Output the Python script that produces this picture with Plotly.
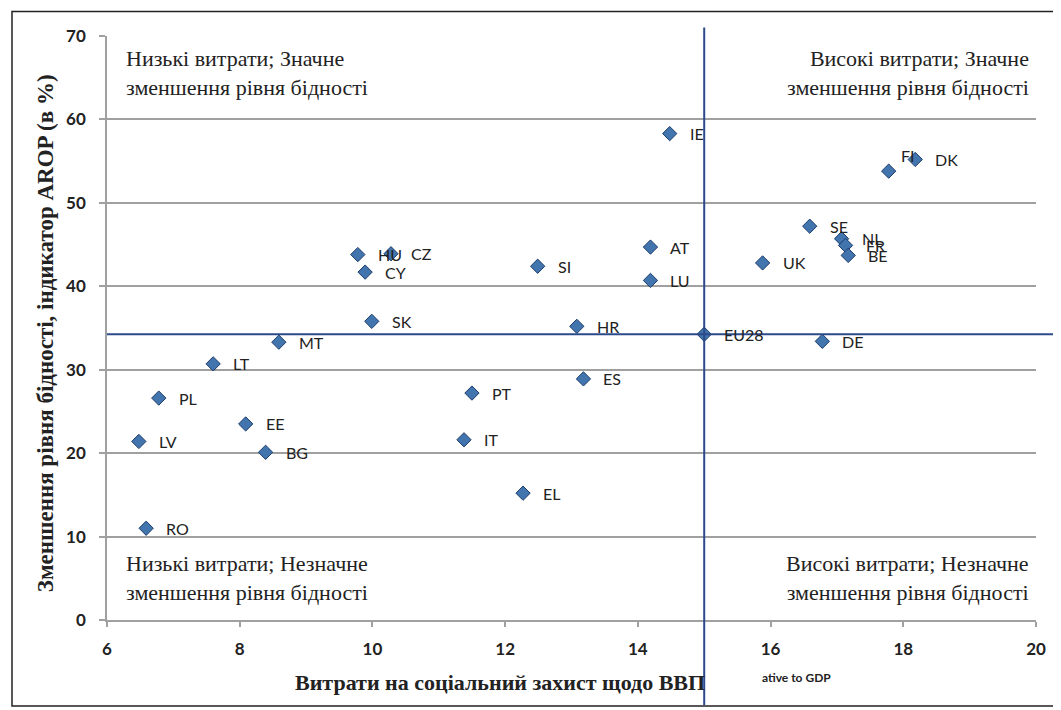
import plotly.graph_objects as go

# Country codes and values
countries = ["IE", "FI", "DK", "SE", "NL", "FR", "BE", "UK", "AT", "LU",
             "SI", "HU", "CZ", "CY", "SK", "HR", "EU28", "DE", "MT", "LT",
             "PL", "PT", "ES", "EE", "LV", "BG", "IT", "EL", "RO"]
spending = [14.48, 17.78, 18.18, 16.59, 17.07, 17.13, 17.17, 15.88, 14.19, 14.19,
            12.49, 9.78, 10.28, 9.89, 9.99, 13.08, 15.0, 16.78, 8.59, 7.6,
            6.78, 11.5, 13.18, 8.09, 6.48, 8.39, 11.38, 12.27, 6.59]
reduction = [58.3, 53.8, 55.2, 47.2, 45.7, 44.9, 43.7, 42.8, 44.7, 40.7,
             42.4, 43.8, 43.9, 41.7, 35.8, 35.2, 34.25, 33.4, 33.3, 30.7,
             26.6, 27.2, 28.9, 23.5, 21.4, 20.1, 21.6, 15.2, 11.0]

x_ticks = [6, 8, 10, 12, 14, 16, 18, 20]
y_ticks = [0, 10, 20, 30, 40, 50, 60, 70]

quadrants = {
    "tl": "Низькі витрати; Значне<br>зменшення рівня бідності",
    "tr": "Високі витрати; Значне<br>зменшення рівня бідності",
    "bl": "Низькі витрати; Незначне<br>зменшення рівня бідності",
    "br": "Високі витрати; Незначне<br>зменшення рівня бідності",
}
x_title = "Витрати на соціальний захист щодо ВВП"
y_title = "Зменшення рівня бідності, індикатор AROP (в %)"
leftover = "ative to GDP"

# page offset (body margin) and plot area in figure pixels
OFF = 8
W, H = 1061 - OFF, 710 - OFF
L, R, T, B = 107 - OFF, 1036 - OFF, 35.5 - OFF, 620 - OFF


def px(x):
    return (x - OFF - L) / (R - L)


def py(y):
    return (B - (y - OFF)) / (B - T)


serif = "Liberation Serif, Times New Roman, serif"
sans = "Lato, Carlito, Liberation Sans, sans-serif"
blue_line = "#2c4a8a"

fig = go.Figure()
fig.add_trace(go.Scatter(
    x=spending, y=reduction, mode="markers",
    marker=dict(symbol="diamond", size=11, color="#4274ae",
                line=dict(color="#1d3c6b", width=1)),
    hoverinfo="text", text=countries, showlegend=False,
))

# point labels
for c, xv, yv in zip(countries, spending, reduction):
    dx, dy = 18, 0
    if c == "FI":
        dx, dy = 10, 16
    fig.add_annotation(x=xv, y=yv, text=c, showarrow=False, xanchor="left",
                       xshift=dx, yshift=dy,
                       font=dict(family=sans, size=16, color="#222"))

eu = countries.index("EU28")
# average lines through EU28
fig.add_shape(type="line", xref="x", yref="paper",
              x0=spending[eu], x1=spending[eu], y0=py(705), y1=py(27),
              line=dict(color=blue_line, width=2))
fig.add_shape(type="line", xref="paper", yref="y",
              x0=px(OFF + L), x1=px(1061), y0=reduction[eu], y1=reduction[eu],
              line=dict(color=blue_line, width=2))

# outer frame
fig.add_shape(type="rect", xref="paper", yref="paper",
              x0=px(12), x1=px(1055), y0=py(706), y1=py(11),
              line=dict(color="#222", width=1.5))

qfont = dict(family=serif, size=22, color="#222")
fig.add_annotation(x=6.25, y=69.0, text=quadrants["tl"], showarrow=False,
                   xanchor="left", yanchor="top", align="left", font=qfont)
fig.add_annotation(x=19.92, y=69.0, text=quadrants["tr"], showarrow=False,
                   xanchor="right", yanchor="top", align="right", font=qfont)
fig.add_annotation(x=6.25, y=1.6, text=quadrants["bl"], showarrow=False,
                   xanchor="left", yanchor="bottom", align="left", font=qfont)
fig.add_annotation(x=19.92, y=1.6, text=quadrants["br"], showarrow=False,
                   xanchor="right", yanchor="bottom", align="right", font=qfont)

# axis titles
fig.add_annotation(xref="paper", yref="paper", x=px(500), y=py(683),
                   xanchor="center", yanchor="middle",
                   text="<b>" + x_title + "</b>", showarrow=False,
                   font=dict(family=serif, size=22, color="#222"))
fig.add_annotation(xref="paper", yref="paper", x=px(796), y=py(678),
                   xanchor="center", yanchor="middle",
                   text="<b>" + leftover + "</b>", showarrow=False,
                   font=dict(family=sans, size=12, color="#222"))
fig.add_annotation(xref="paper", yref="paper", x=px(45), y=py(333),
                   xanchor="center", yanchor="middle",
                   text="<b>" + y_title + "</b>", showarrow=False, textangle=-90,
                   font=dict(family=serif, size=23, color="#222"))

fig.update_xaxes(range=[6, 20], tickvals=x_ticks, showgrid=False, zeroline=False,
                 showline=True, linecolor="#a0a0a0", linewidth=1.5,
                 ticks="outside", ticklen=5, tickcolor="#a0a0a0", tickwidth=1.5,
                 ticklabelstandoff=8,
                 tickfont=dict(family=sans, size=17, color="#222", weight="bold"))
fig.update_yaxes(range=[0, 70], tickvals=y_ticks, showgrid=True,
                 gridcolor="#a0a0a0", gridwidth=1.5, zeroline=False,
                 showline=True, linecolor="#a0a0a0", linewidth=1.5,
                 ticks="outside", ticklen=6, tickcolor="#a0a0a0", tickwidth=1.5,
                 ticklabelstandoff=10,
                 tickfont=dict(family=sans, size=17, color="#222", weight="bold"))

fig.update_layout(width=W, height=H, plot_bgcolor="white", paper_bgcolor="white",
                  margin=dict(l=L, r=W - R, t=T, b=H - B), showlegend=False)

fig.write_html("out.html")
